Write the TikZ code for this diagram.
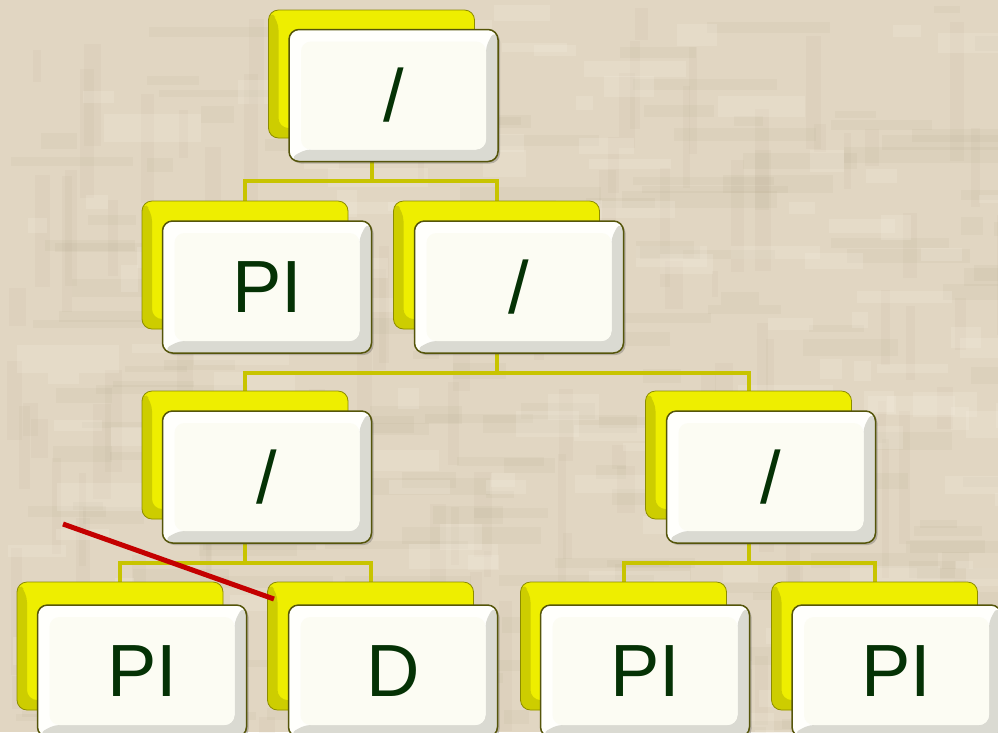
\documentclass[tikz,border=0pt]{standalone}
\usepackage{fontspec}
\setmainfont{Liberation Sans}
\usetikzlibrary{shadows,calc}
\pgfdeclarelayer{texture}
\pgfdeclarelayer{background}
\pgfsetlayers{texture,background,main}
\definecolor{bg}{RGB}{225,214,194}
\definecolor{bgdark}{RGB}{175,160,132}
\definecolor{bglight}{RGB}{246,239,225}
\definecolor{ylw}{RGB}{238,238,0}
\definecolor{ylwedge}{RGB}{205,205,0}
\definecolor{ylwline}{RGB}{140,140,0}
\definecolor{wbox}{RGB}{252,252,243}
\definecolor{wtop}{RGB}{255,255,252}
\definecolor{wedge}{RGB}{218,218,210}
\definecolor{wline}{RGB}{85,85,10}
\definecolor{connc}{RGB}{200,196,0}
\definecolor{txt}{RGB}{5,50,5}
\definecolor{redline}{RGB}{196,0,0}
\tikzset{
  backbox/.style={draw=ylwline, line width=0.8pt, fill=ylw, rounded corners=10pt,
    minimum width=206pt, minimum height=128pt, inner sep=0pt,
    path picture={
      \fill[ylwedge]
        (path picture bounding box.north west) --
        ($(path picture bounding box.north west)+(10pt,-10pt)$) --
        ($(path picture bounding box.south west)+(10pt,10pt)$) --
        ($(path picture bounding box.south east)+(-10pt,10pt)$) --
        (path picture bounding box.south east) --
        (path picture bounding box.south west) -- cycle;
    }},
  frontbox/.style={draw=wline, line width=1.5pt, fill=wtop, rounded corners=10pt,
    minimum width=209pt, minimum height=132pt, inner sep=0pt, text=txt,
    font=\fontsize{74}{80}\selectfont,
    drop shadow={shadow xshift=2pt, shadow yshift=-2pt, opacity=0.3, fill=black!70},
    path picture={
      \fill[wedge]
        (path picture bounding box.north east) --
        (path picture bounding box.south east) --
        (path picture bounding box.south west) --
        ($(path picture bounding box.south west)+(12pt,12pt)$) --
        ($(path picture bounding box.south east)+(-12pt,12pt)$) --
        ($(path picture bounding box.north east)+(-12pt,-12pt)$) -- cycle;
      \fill[wbox]
        ($(path picture bounding box.north west)+(12pt,-12pt)$) rectangle
        ($(path picture bounding box.south east)+(-12pt,12pt)$);
    }},
  connector/.style={draw=connc, line width=4pt},
  strike/.style={draw=redline, line width=5pt},
}
\begin{document}
\begin{tikzpicture}[x=1pt,y=-1pt]
\useasboundingbox (0,0) rectangle (998,732);
\clip (0,0) rectangle (998,732);
\begin{pgfonlayer}{texture}
  \fill[bg] (0,0) rectangle (998,732);
  \pgfmathsetseed{12}
  \foreach \i in {1,...,170}{
    \pgfmathsetmacro\xa{rnd*998}
    \pgfmathsetmacro\ya{rnd*732}
    \pgfmathsetmacro\wa{20+rnd*140}
    \pgfmathsetmacro\ha{6+rnd*12}
    \fill[bgdark,opacity=0.09] (\xa,\ya) rectangle ++(\wa,\ha);
  }
  \foreach \i in {1,...,120}{
    \pgfmathsetmacro\xa{rnd*998}
    \pgfmathsetmacro\ya{rnd*732}
    \pgfmathsetmacro\wa{6+rnd*12}
    \pgfmathsetmacro\ha{20+rnd*120}
    \fill[bgdark,opacity=0.08] (\xa,\ya) rectangle ++(\wa,\ha);
  }
  \foreach \i in {1,...,140}{
    \pgfmathsetmacro\xa{rnd*998}
    \pgfmathsetmacro\ya{rnd*732}
    \pgfmathsetmacro\wa{15+rnd*90}
    \pgfmathsetmacro\ha{8+rnd*20}
    \fill[bglight,opacity=0.22] (\xa,\ya) rectangle ++(\wa,\ha);
  }
\end{pgfonlayer}

% level 1
\node[backbox] (b1) at (371.5,74) {};
\node[frontbox] (f1) at (393.5,95.5) {/};
% level 2
\node[backbox] (b2) at (245,265) {};
\node[frontbox] (f2) at (267,287) {PI};
\node[backbox] (b3) at (496.5,265) {};
\node[frontbox] (f3) at (519,287) {/};
% level 3
\node[backbox] (b4) at (245,455) {};
\node[frontbox] (f4) at (267,477) {/};
\node[backbox] (b5) at (748.5,455) {};
\node[frontbox] (f5) at (771,477) {/};
% level 4
\node[backbox] (b6) at (120,646) {};
\node[frontbox] (f6) at (142,671) {PI};
\node[backbox] (b7) at (370.5,646) {};
\node[frontbox] (f7) at (393,671) {D};
\node[backbox] (b8) at (623.5,646) {};
\node[frontbox] (f8) at (645,671) {PI};
\node[backbox] (b9) at (874.5,646) {};
\node[frontbox] (f9) at (896.5,671) {PI};

\begin{pgfonlayer}{background}
  \draw[connector] (b1.south |- f1.south) -- ++(0,19) coordinate (j1);
  \draw[connector] (b2.north) |- (j1) -| (b3.north);
  \draw[connector] (b3.south |- f3.south) -- ++(0,19) coordinate (j2);
  \draw[connector] (b4.north) |- (j2) -| (b5.north);
  \draw[connector] (b4.south |- f4.south) -- ++(0,19) coordinate (j3);
  \draw[connector] (b6.north) |- (j3) -| (b7.north);
  \draw[connector] (b5.south |- f5.south) -- ++(0,19) coordinate (j4);
  \draw[connector] (b8.north) |- (j4) -| (b9.north);
\end{pgfonlayer}

\coordinate (r1) at (63,524);
\coordinate (r2) at (274,599);
\draw[strike] (r1) -- (r2);
\end{tikzpicture}
\end{document}
